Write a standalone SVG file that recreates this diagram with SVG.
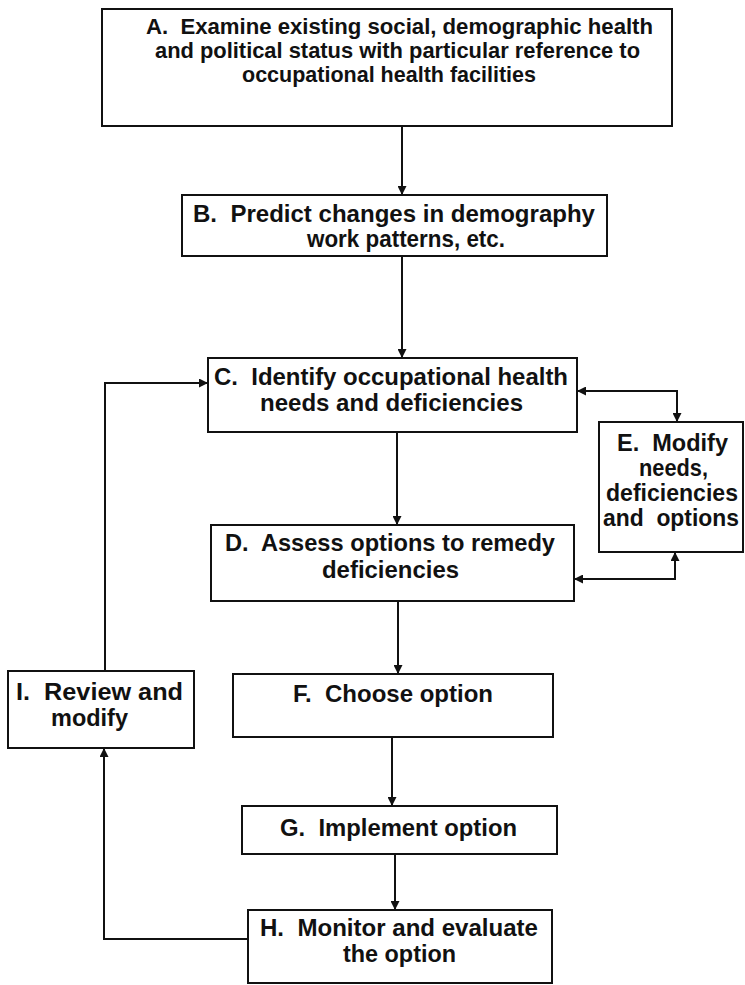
<svg xmlns="http://www.w3.org/2000/svg" width="745" height="985" viewBox="0 0 745 985">
<style>
.box{fill:#fff;stroke:#111;stroke-width:2}
.t{font-family:"Liberation Sans",Arial,Helvetica,sans-serif;font-weight:bold;font-size:24px;fill:#111}
.ta{font-size:22px}
.c{fill:none;stroke:#111;stroke-width:2}
</style>
<defs>
<marker id="ah" viewBox="0 0 10 10" refX="10" refY="5" markerWidth="9" markerHeight="9" markerUnits="userSpaceOnUse" orient="auto-start-reverse">
<path d="M0,0 L10,5 L0,10 z" fill="#111"/>
</marker>
</defs>
<rect width="745" height="985" fill="#fff"/>

<g id="connectors">
<path class="c" d="M402,127 L402,195" marker-end="url(#ah)"/>
<path class="c" d="M402,256 L402,358" marker-end="url(#ah)"/>
<path class="c" d="M397,432 L397,525" marker-end="url(#ah)"/>
<path class="c" d="M398,601 L398,674" marker-end="url(#ah)"/>
<path class="c" d="M392,737 L392,806" marker-end="url(#ah)"/>
<path class="c" d="M395,854 L395,910" marker-end="url(#ah)"/>
<path class="c" d="M248,939 L104,939 L104,748" marker-end="url(#ah)"/>
<path class="c" d="M105,671 L105,383 L208,383" marker-end="url(#ah)"/>
<path class="c" d="M577,391 L677,391 L677,422" marker-start="url(#ah)" marker-end="url(#ah)"/>
<path class="c" d="M675,552 L675,579 L574,579" marker-start="url(#ah)" marker-end="url(#ah)"/>
</g>

<g id="nodeA">
<rect class="box" x="102" y="9" width="570" height="117"/>
<text class="t ta" x="146" y="34" textLength="507" lengthAdjust="spacingAndGlyphs">A.&#160; Examine existing social, demographic health</text>
<text class="t ta" x="155" y="58" textLength="485" lengthAdjust="spacingAndGlyphs">and political status with particular reference to</text>
<text class="t ta" x="242" y="82" textLength="294" lengthAdjust="spacingAndGlyphs">occupational health facilities</text>
</g>

<g id="nodeB">
<rect class="box" x="182" y="195" width="425" height="61"/>
<text class="t" x="193" y="222" textLength="402" lengthAdjust="spacingAndGlyphs">B.&#160; Predict changes in demography</text>
<text class="t" x="307" y="247" textLength="198" lengthAdjust="spacingAndGlyphs">work patterns, etc.</text>
</g>

<g id="nodeC">
<rect class="box" x="208" y="358" width="369" height="74"/>
<text class="t" x="214" y="385" textLength="354" lengthAdjust="spacingAndGlyphs">C.&#160; Identify occupational health</text>
<text class="t" x="260" y="411" textLength="263" lengthAdjust="spacingAndGlyphs">needs and deficiencies</text>
</g>

<g id="nodeE">
<rect class="box" x="599" y="422" width="144" height="130"/>
<text class="t" x="617" y="451" textLength="111" lengthAdjust="spacingAndGlyphs">E.&#160; Modify</text>
<text class="t" x="639" y="476" textLength="69" lengthAdjust="spacingAndGlyphs">needs,</text>
<text class="t" x="606" y="501" textLength="132" lengthAdjust="spacingAndGlyphs">deficiencies</text>
<text class="t" x="603" y="526" textLength="136" lengthAdjust="spacingAndGlyphs">and&#160; options</text>
</g>

<g id="nodeD">
<rect class="box" x="211" y="525" width="363" height="76"/>
<text class="t" x="225" y="551" textLength="330" lengthAdjust="spacingAndGlyphs">D.&#160; Assess options to remedy</text>
<text class="t" x="322" y="578" textLength="137" lengthAdjust="spacingAndGlyphs">deficiencies</text>
</g>

<g id="nodeF">
<rect class="box" x="233" y="674" width="320" height="63"/>
<text class="t" x="293" y="702" textLength="200" lengthAdjust="spacingAndGlyphs">F.&#160; Choose option</text>
</g>

<g id="nodeI">
<rect class="box" x="8" y="671" width="186" height="77"/>
<text class="t" x="16" y="700" textLength="167" lengthAdjust="spacingAndGlyphs">I.&#160; Review and</text>
<text class="t" x="51" y="726" textLength="77" lengthAdjust="spacingAndGlyphs">modify</text>
</g>

<g id="nodeG">
<rect class="box" x="242" y="806" width="315" height="48"/>
<text class="t" x="280" y="836" textLength="237" lengthAdjust="spacingAndGlyphs">G.&#160; Implement option</text>
</g>

<g id="nodeH">
<rect class="box" x="248" y="910" width="304" height="73"/>
<text class="t" x="260" y="936" textLength="278" lengthAdjust="spacingAndGlyphs">H.&#160; Monitor and evaluate</text>
<text class="t" x="343" y="962" textLength="113" lengthAdjust="spacingAndGlyphs">the option</text>
</g>
</svg>
